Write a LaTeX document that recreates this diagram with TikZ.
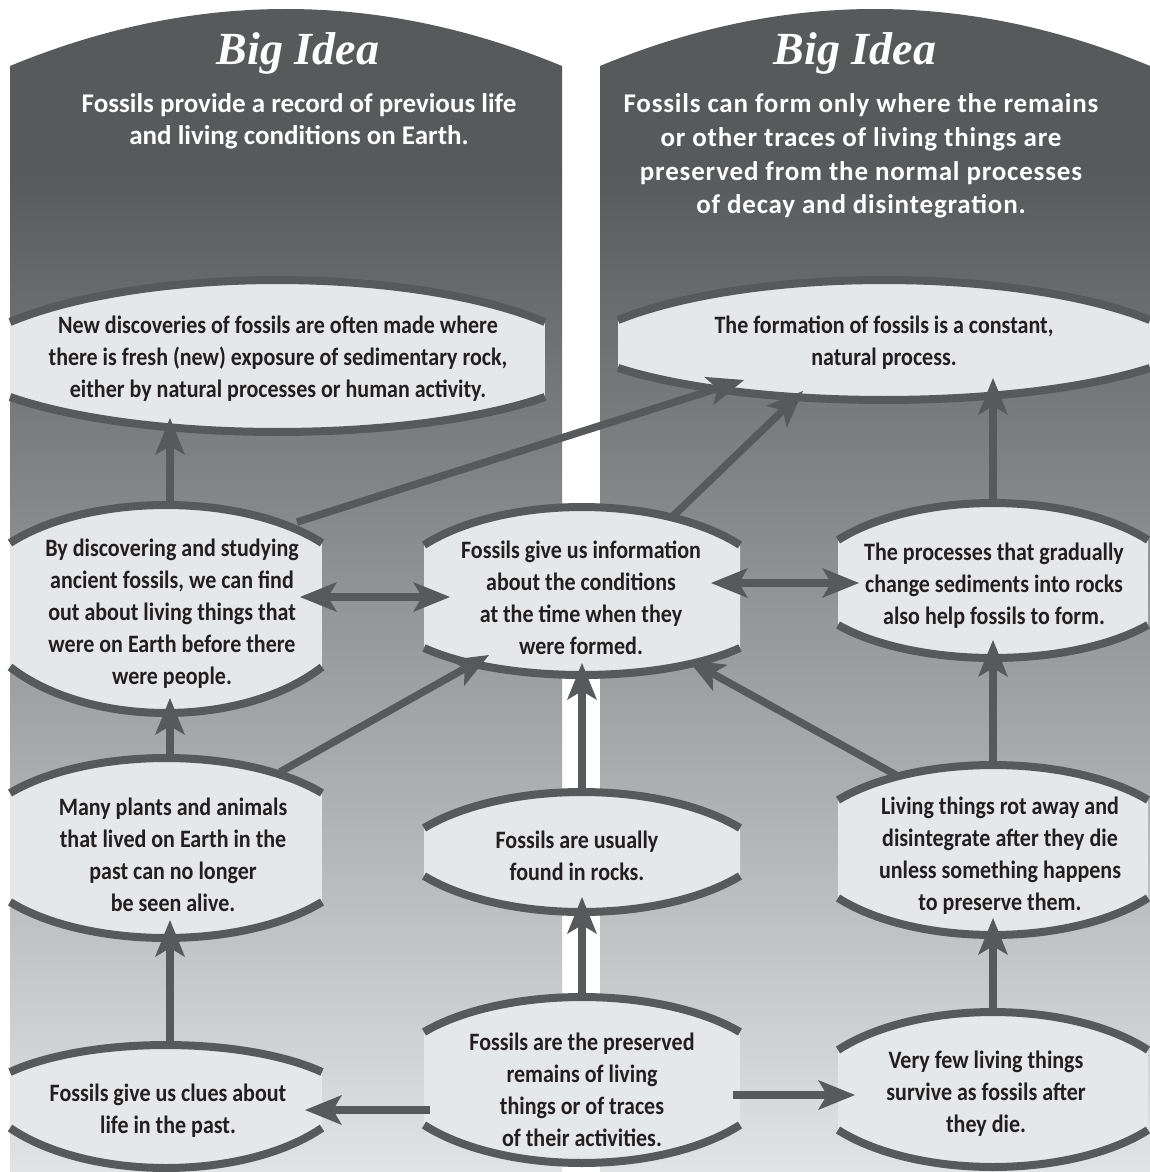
\documentclass[tikz,border=0pt]{standalone}
\usepackage{fontspec}
\newfontfamily\bodyf{Carlito}[FakeStretch=0.88]
\newfontfamily\hdrf{Carlito}
\newfontfamily\hdrwf{Carlito}[LetterSpace=3]
\newfontfamily\bigf{Liberation Serif}
\usetikzlibrary{arrows.meta,calc}
\definecolor{panelDark}{HTML}{58595B}
\definecolor{panelLight}{HTML}{E2E3E4}
\definecolor{lensFill}{HTML}{E6E7E8}
\definecolor{lineGray}{HTML}{58595B}
\definecolor{txtDark}{HTML}{231F20}
\tikzset{
  lensfill/.style={fill=lensFill},
  lensline/.style={draw=lineGray, line width=8pt},
  lensbox/.style={draw=none, inner sep=0pt, outer sep=0pt, rectangle},
  bodytxt/.style={font=\bodyf\bfseries\fontsize{25}{32}\selectfont, text=txtDark, align=center, inner sep=0pt},
  hdrtxt/.style={font=\hdrf\bfseries\fontsize{27}{32}\selectfont, text=white, align=center, inner sep=0pt},
  hdrwtxt/.style={font=\hdrwf\bfseries\fontsize{27}{33.7}\selectfont, text=white, align=center, inner sep=0pt},
  bigtxt/.style={font=\bigf\bfseries\itshape\fontsize{46}{50}\selectfont, text=white, inner sep=0pt},
  arr/.style={draw=lineGray, line width=7.5pt, -{Stealth[length=37pt, width=30pt, inset=9pt, line width=0pt]}},
  darr/.style={draw=lineGray, line width=7.5pt, {Stealth[length=37pt, width=30pt, inset=9pt, line width=0pt]}-{Stealth[length=37pt, width=30pt, inset=9pt, line width=0pt]}},
}
% #1 name, #2 left, #3 right, #4 top apex, #5 top at cut, #6 bottom at cut, #7 bottom apex
\newcommand\lensShape[7]{%
  \pgfmathsetmacro\lzX{(#2+#3)/2}%
  \pgfmathsetmacro\lzA{(#3-#2)/1.6}%
  \pgfmathsetmacro\lzBT{2.5*(#5-#4)}%
  \pgfmathsetmacro\lzCT{#4+\lzBT}%
  \pgfmathsetmacro\lzBB{2.5*(#7-#6)}%
  \pgfmathsetmacro\lzCB{#7-\lzBB}%
  \pgfmathsetmacro\lzY{(#4+#7)/2}%
  \pgfmathsetmacro\lzWd{#3-#2}%
  \pgfmathsetmacro\lzHt{#7-#4}%
  \fill[lensfill] plot[domain=143.13:36.87, samples=41] ({\lzX+\lzA*cos(\x)},{\lzCT-\lzBT*sin(\x)})
     -- plot[domain=36.87:143.13, samples=41] ({\lzX+\lzA*cos(\x)},{\lzCB+\lzBB*sin(\x)}) -- cycle;
  \draw[lensline] plot[domain=143.13:36.87, samples=41] ({\lzX+\lzA*cos(\x)},{\lzCT-\lzBT*sin(\x)});
  \draw[lensline] plot[domain=36.87:143.13, samples=41] ({\lzX+\lzA*cos(\x)},{\lzCB+\lzBB*sin(\x)});
  \node[lensbox, minimum width=\lzWd pt, minimum height=\lzHt pt] (#1) at (\lzX,\lzY) {};
}
\begin{document}
\begin{tikzpicture}[x=1pt,y=-1pt]
\useasboundingbox (0,0) rectangle (1150,1172);
\fill[white] (0,0) rectangle (1150,1172);
% panels
\begin{scope}
  \clip (10,66) .. controls (194,-10) and (378,-10) .. (562,66) -- (562,1172) -- (10,1172) -- cycle;
  \fill[panelDark] (0,0) rectangle (1150,171);
  \shade[top color=panelDark, bottom color=panelLight] (0,170) rectangle (1150,1172);
\end{scope}
\begin{scope}
  \clip (600,66) .. controls (783,-10) and (967,-10) .. (1150,66) -- (1150,1172) -- (600,1172) -- cycle;
  \fill[panelDark] (0,0) rectangle (1150,171);
  \shade[top color=panelDark, bottom color=panelLight] (0,170) rectangle (1150,1172);
\end{scope}
% headers
\node[bigtxt, anchor=base] (bigL) at (298,65) {Big Idea};
\node[bigtxt, anchor=base] (bigR) at (855,65) {Big Idea};
\node[hdrtxt] (hdrL) at (299,121) {Fossils provide a record of previous life\\and living conditions on Earth.};
\node[hdrwtxt] (hdrR) at (861,156) {Fossils can form only where the remains\\or other traces of living things are\\preserved from the normal processes\\of decay and disintegration.};
% lenses
\lensShape{A}{10}{545}{280}{322}{397}{432}
\lensShape{B}{618}{1150}{280}{320}{368}{400}
\lensShape{C}{10}{322}{505}{543}{667}{713}
\lensShape{D}{424}{740}{507}{545}{648}{675}
\lensShape{E}{838}{1148}{503}{540}{625}{658}
\lensShape{F}{10}{322}{758}{793}{902}{938}
\lensShape{G}{424}{740}{792}{828}{876}{912}
\lensShape{H}{838}{1148}{765}{800}{898}{935}
\lensShape{I}{10}{322}{1045}{1072}{1128}{1168}
\lensShape{J}{424}{740}{997}{1032}{1125}{1163}
\lensShape{K}{838}{1148}{1012}{1050}{1130}{1167}
% connectors
\draw[arr] ($(C.north)+(4,0)$) -- ($(A.south)+(-107.5,-14)$);
\draw[arr] ($(C.center)+(131,-87)$) -- ($(B.center)+(-140,40)$);
\draw[arr] ($(D.center)+(88,-72)$) -- ($(B.center)+(-81,51)$);
\draw[arr] (E.north) -- ($(B.south)+(109,-22)$);
\draw[darr] ($(C.center)+(134,-12)$) -- ($(D.center)+(-132,6)$);
\draw[darr] ($(D.center)+(129,-8)$) -- ($(E.center)+(-134,2.5)$);
\draw[arr] ($(F.north)+(4,0)$) -- ($(C.south)+(4,-15)$);
\draw[arr] ($(F.center)+(114,-76)$) -- ($(D.center)+(-93,64)$);
\draw[arr] (G.north) -- ($(D.south)+(0,-12)$);
\draw[arr] ($(H.center)+(-97,-75)$) -- ($(D.center)+(106,69)$);
\draw[arr] (H.north) -- ($(E.south)+(0,-18)$);
\draw[arr] ($(I.north)+(4,0)$) -- ($(F.south)+(4,-18)$);
\draw[arr] (J.north) -- ($(G.south)+(0,-15)$);
\draw[arr] ($(J.center)+(-152,30)$) -- ($(I.center)+(139,3.5)$);
\draw[arr] ($(J.center)+(151,15)$) -- ($(K.center)+(-138,5.5)$);
\draw[arr] (K.north) -- ($(H.south)+(0,-17)$);
% texts
\node[bodytxt] (At) at (278,359) {New discoveries of fossils are often made where\\there is fresh (new) exposure of sedimentary rock,\\either by natural processes or human activity.};
\node[bodytxt] (Bt) at (884,343) {The formation of fossils is a constant,\\natural process.};
\node[bodytxt] (Ct) at (172,614) {By discovering and studying\\ancient fossils, we can find\\out about living things that\\were on Earth before there\\were people.};
\node[bodytxt] (Dt) at (581,598) {Fossils give us information\\about the conditions\\at the time when they\\were formed.};
\node[bodytxt] (Et) at (994,586) {The processes that gradually\\change sediments into rocks\\also help fossils to form.};
\node[bodytxt] (Ft) at (173,855) {Many plants and animals\\that lived on Earth in the\\past can no longer\\be seen alive.};
\node[bodytxt] (Gt) at (577,856) {Fossils are usually\\found in rocks.};
\node[bodytxt] (Ht) at (1000,856) {Living things rot away and\\disintegrate after they die\\unless something happens\\to preserve them.};
\node[bodytxt] (It) at (168,1111) {Fossils give us clues about\\life in the past.};
\node[bodytxt] (Jt) at (582,1090) {Fossils are the preserved\\remains of living\\things or of traces\\of their activities.};
\node[bodytxt] (Kt) at (986,1094) {Very few living things\\survive as fossils after\\they die.};
\end{tikzpicture}
\end{document}
